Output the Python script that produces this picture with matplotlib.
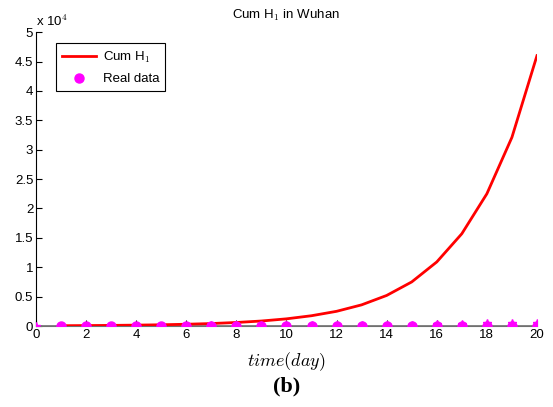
import numpy as np
import matplotlib
matplotlib.use("Agg")
import matplotlib.pyplot as plt
from matplotlib.ticker import FuncFormatter, MultipleLocator

# model curve (Cum H1), days 1..20
model_days = list(range(1, 21))
cum_h1 = [52, 75, 105, 150, 210, 300, 420, 600, 850, 1220,
          1750, 2500, 3600, 5200, 7500, 10900, 15700, 22500, 32100, 46000]

# real data markers
real_days = list(range(1, 21))
real_vals = [0] * 20

# star markers (raw observations)
star_days = list(range(0, 21))
star_vals = [41, 45, 50, 55, 60, 70, 80, 90, 100, 110, 120,
             140, 160, 180, 210, 250, 300, 380, 440, 500, 560]

plt.rcParams["font.family"] = ["Liberation Sans", "DejaVu Sans"]
plt.rcParams["mathtext.fontset"] = "cm"

fig = plt.figure(figsize=(5.53, 4.07), dpi=100)
ax = fig.add_axes([0.0651, 0.199, 0.9059, 0.722])

ax.axhline(0, color="#707070", lw=1.2, zorder=1)
ax.plot(model_days, cum_h1, color="red", lw=2, label="Cum H$_1$", zorder=3)
ax.plot(star_days, star_vals, ls="none", marker="*", color="magenta",
        ms=6, zorder=4)
ax.plot(real_days, real_vals, ls="none", marker="o", color="magenta",
        mec="magenta", ms=6.5, label="Real data", zorder=5)

ax.set_xlim(0, 20)
ax.set_ylim(0, 50000)
ax.xaxis.set_major_locator(MultipleLocator(2))
ax.yaxis.set_major_locator(MultipleLocator(5000))
ax.yaxis.set_major_formatter(FuncFormatter(lambda v, _: f"{v/1e4:g}"))
ax.tick_params(direction="in", length=4, labelsize=9.5, pad=2)
ax.spines["top"].set_visible(False)
ax.spines["right"].set_visible(False)
ax.spines["bottom"].set_color("#707070")

ax.text(0.0, 1.012, "x 10$^4$", transform=ax.transAxes, fontsize=9.5,
        ha="left", va="bottom")
ax.set_title("Cum H$_1$ in Wuhan", fontsize=9.5, pad=10)
ax.set_xlabel("$time(day)$", fontsize=13, labelpad=7)
fig.text(0.518, 0.025, "(b)", fontsize=16, fontweight="bold",
         family="Liberation Serif", ha="center", va="bottom")

leg = ax.legend(loc="upper left", bbox_to_anchor=(0.027, 0.984), fontsize=9.5,
                fancybox=False, edgecolor="black", framealpha=1,
                handlelength=2.6, handletextpad=0.5, borderpad=0.45,
                labelspacing=0.65)
leg.get_frame().set_linewidth(0.8)

fig.savefig("out.png", dpi=100)
